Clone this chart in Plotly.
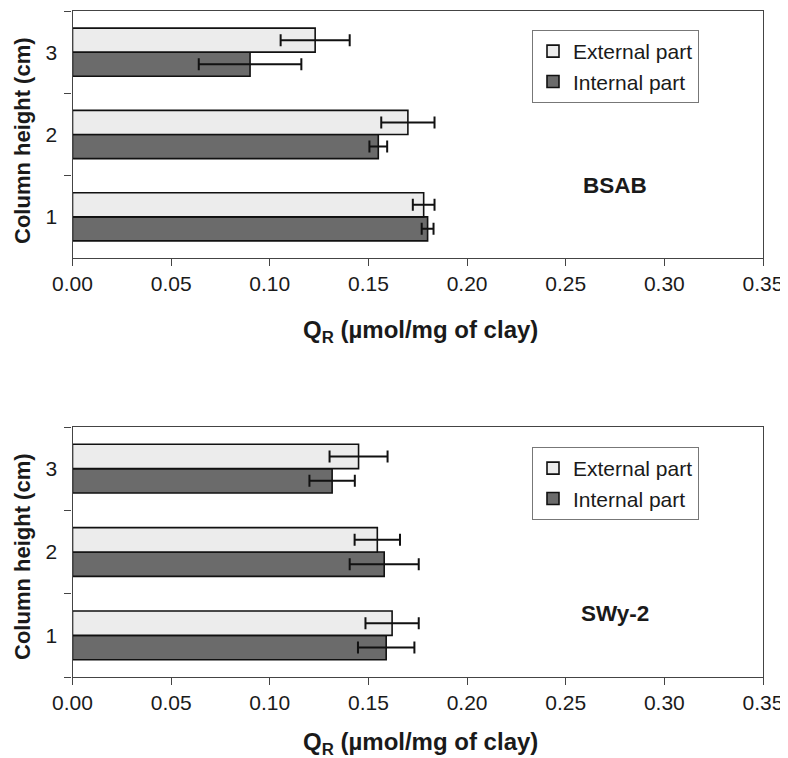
import plotly.graph_objects as go

# ---- data ----
heights = ["1", "2", "3"]
bsab_external = [0.178, 0.170, 0.123]
bsab_external_err = [0.0055, 0.0135, 0.0175]
bsab_internal = [0.180, 0.155, 0.090]
bsab_internal_err = [0.003, 0.0045, 0.026]

swy_external = [0.162, 0.1545, 0.145]
swy_external_err = [0.0135, 0.0115, 0.0147]
swy_internal = [0.159, 0.158, 0.1316]
swy_internal_err = [0.0143, 0.0175, 0.0115]

x_ticks = [0.0, 0.05, 0.10, 0.15, 0.20, 0.25, 0.30, 0.35]
x_ticklabels = ["0.00", "0.05", "0.10", "0.15", "0.20", "0.25", "0.30", "0.35"]
panel_labels = ["BSAB", "SWy-2"]
series_names = ["External part", "Internal part"]

FONT = "Liberation Sans, Arial, sans-serif"
TXT = "#1a1a1a"
LIGHT = "#ececec"
DARK = "#6b6b6b"

# the page body has an 8px margin; lay out in window pixels and convert
OFF = 8
W, H = 788 - OFF, 758 - OFF


def px(sx):
    return (sx - OFF) / W


def py(sy):
    return 1 - (sy - OFF) / H


fig = go.Figure()

panels = [
    (bsab_internal, bsab_internal_err, bsab_external, bsab_external_err, "x", "y", "legend"),
    (swy_internal, swy_internal_err, swy_external, swy_external_err, "x2", "y2", "legend2"),
]
for intl, intl_e, ext, ext_e, xa, ya, lg in panels:
    fig.add_trace(go.Bar(
        y=heights, x=intl, orientation="h", name=series_names[1],
        marker=dict(color=DARK, line=dict(color="#111", width=1.6)),
        error_x=dict(type="data", array=intl_e, visible=True, color="#111", thickness=2, width=6),
        xaxis=xa, yaxis=ya, legend=lg,
    ))
    fig.add_trace(go.Bar(
        y=heights, x=ext, orientation="h", name=series_names[0],
        marker=dict(color=LIGHT, line=dict(color="#111", width=1.6)),
        error_x=dict(type="data", array=ext_e, visible=True, color="#111", thickness=2, width=6),
        xaxis=xa, yaxis=ya, legend=lg,
    ))

xdom = [px(72.5), px(763)]
top_dom = [py(258), py(11)]
bot_dom = [py(677), py(427)]

xcommon = dict(
    range=[0, 0.35], tickvals=x_ticks, ticktext=x_ticklabels, domain=xdom,
    showgrid=False, zeroline=False, showline=True, linecolor="#444", linewidth=1.2,
    mirror=True, ticks="outside", ticklen=7, tickcolor="#444", automargin=False,
    tickfont=dict(family=FONT, size=21, color=TXT),
)
ycommon = dict(
    type="category", categoryorder="array", categoryarray=heights,
    range=[-0.5, 2.5], showgrid=False, zeroline=False, showline=True,
    linecolor="#444", linewidth=1.2, mirror=True, ticks="outside", ticklen=7,
    tickcolor="#444", tickson="boundaries", ticklabelstandoff=10, automargin=False,
    tickfont=dict(family=FONT, size=21, color=TXT),
)

legcommon = dict(
    font=dict(family=FONT, size=21, color=TXT), bgcolor="white",
    bordercolor="#777", borderwidth=1, traceorder="reversed",
    xanchor="left", yanchor="top", itemwidth=30,
)

fig.update_layout(
    width=W, height=H, margin=dict(l=0, r=0, t=0, b=0),
    paper_bgcolor="white", plot_bgcolor="white",
    barmode="group", bargap=0.415, bargroupgap=0,
    xaxis=dict(**xcommon, anchor="y"),
    yaxis=dict(**ycommon, domain=top_dom, anchor="x"),
    xaxis2=dict(**xcommon, anchor="y2"),
    yaxis2=dict(**ycommon, domain=bot_dom, anchor="x2"),
    legend=dict(**legcommon, x=px(532), y=py(30)),
    legend2=dict(**legcommon, x=px(532), y=py(447)),
    font=dict(family=FONT, color=TXT),
)

annots = [
    dict(text="<b>" + panel_labels[0] + "</b>", x=615, y=185, size=22.5),
    dict(text="<b>" + panel_labels[1] + "</b>", x=615, y=613, size=22.5),
    dict(text="<b>Q<sub>R</sub> (µmol/mg of clay)</b>", x=420, y=331, size=24),
    dict(text="<b>Q<sub>R</sub> (µmol/mg of clay)</b>", x=420, y=743, size=24),
]
for a in annots:
    fig.add_annotation(text=a["text"], x=px(a["x"]), y=py(a["y"]), xref="paper", yref="paper",
                       showarrow=False, xanchor="center", yanchor="middle",
                       font=dict(family=FONT, size=a["size"], color=TXT))
for yc in (141, 557):
    fig.add_annotation(text="<b>Column height (cm)</b>", x=px(22), y=py(yc),
                       xref="paper", yref="paper", showarrow=False, textangle=-90,
                       xanchor="center", yanchor="middle",
                       font=dict(family=FONT, size=22, color=TXT))

fig.write_html("out.html")
